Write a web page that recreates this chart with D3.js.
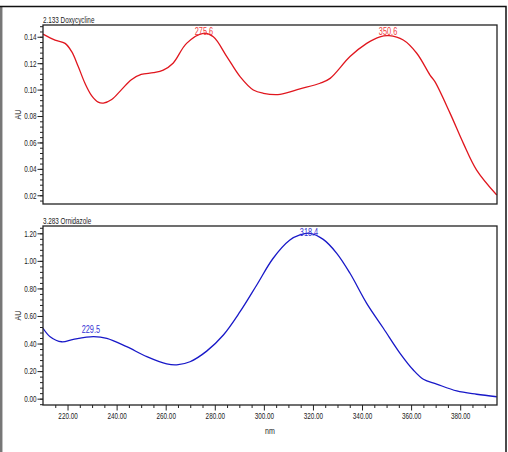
<!DOCTYPE html>
<html>
<head>
<meta charset="utf-8">
<script src="https://cdn.jsdelivr.net/npm/d3@7"></script>
<style>
  body { margin: 0; background: #fff; }
  text { font-family: "Liberation Sans", Arial, sans-serif; }
</style>
</head>
<body>
<div id="chart"></div>
<script>
// spectrum 1 : 2.133 Doxycycline
var doxyNm = [210, 214.9, 219, 221.7, 224.4, 227.1, 229.8, 232.5, 234.6, 238, 242, 246, 250, 255, 259, 263, 268.5, 275.3, 279.4, 284.9, 290.3, 295.7, 299.8, 306.6, 314.7, 322.9, 327, 335.1, 341.9, 347.3, 351, 356.8, 362.3, 367.7, 369.7, 375.9, 381.3, 386.7, 394.9];
var doxyAU = [0.142, 0.1375, 0.135, 0.1287, 0.1173, 0.1048, 0.0955, 0.0905, 0.0898, 0.0925, 0.100, 0.1075, 0.1115, 0.1128, 0.1148, 0.120, 0.135, 0.1426, 0.140, 0.125, 0.1098, 0.0997, 0.0972, 0.0964, 0.1005, 0.1048, 0.1085, 0.125, 0.135, 0.140, 0.1408, 0.1375, 0.1275, 0.111, 0.106, 0.082, 0.0593, 0.0391, 0.0202];
var doxyPeaks = [275.6, 350.6];

// spectrum 2 : 3.283 Ornidazole
var ornNm = [210, 212.9, 217.6, 222.4, 230.5, 236, 244.1, 252.3, 260.4, 264.5, 269.9, 276.7, 283.5, 290.3, 297.1, 303.8, 310.6, 314.7, 318.8, 324.2, 329.7, 335.1, 341.9, 348.7, 355.5, 360.9, 365, 370.4, 378.6, 386.7, 394.9];
var ornAU = [0.511, 0.45, 0.413, 0.431, 0.45, 0.438, 0.377, 0.305, 0.252, 0.245, 0.268, 0.345, 0.462, 0.631, 0.825, 1.019, 1.151, 1.188, 1.2, 1.156, 1.055, 0.91, 0.692, 0.511, 0.329, 0.208, 0.141, 0.106, 0.056, 0.032, 0.014];
var ornPeaks = [229.5, 318.4];

var xTicks = [220, 240, 260, 280, 300, 320, 340, 360, 380];
var doxyTicks = [0.02, 0.04, 0.06, 0.08, 0.10, 0.12, 0.14];
var ornTicks = [0.00, 0.20, 0.40, 0.60, 0.80, 1.00, 1.20];

var W = 508, H = 452;
var svg = d3.select("#chart").append("svg")
    .attr("width", W)
    .attr("height", H);

// squeeze text horizontally (chart uses a narrow face)
function narrow(sel, k) {
    sel.each(function () {
        var w = this.getComputedTextLength();
        d3.select(this).attr("textLength", w * (k || 0.73)).attr("lengthAdjust", "spacingAndGlyphs");
    });
}

// outer frame
svg.append("line").attr("x1", 1.2).attr("x2", 1.2).attr("y1", 6).attr("y2", H)
    .attr("stroke", "#777").attr("stroke-width", 2.5);
svg.append("path")
    .attr("d", "M 0 6.5 L 506 6.5 L 506 452")
    .attr("fill", "none")
    .attr("stroke", "#111")
    .attr("stroke-width", 1.5);

var x = d3.scaleLinear().domain([210, 395]).range([43, 497]);

function panel(opts) {
    var y = d3.scaleLinear().domain(opts.domain).range([opts.bottom, opts.top]);
    var g = svg.append("g");

    // minor y ticks
    var minor = d3.range(Math.ceil(opts.domain[0] / opts.minorStep), Math.floor(opts.domain[1] / opts.minorStep) + 1)
        .map(function (i) { return i * opts.minorStep; });
    g.append("g")
        .attr("transform", "translate(43,0)")
        .call(d3.axisLeft(y).tickValues(minor).tickSize(3).tickFormat(""))
        .call(function (s) { s.select(".domain").remove(); s.selectAll("line").attr("stroke", "#222"); });

    g.append("g")
        .attr("transform", "translate(43,0)")
        .call(d3.axisLeft(y).tickValues(opts.ticks).tickSize(5.5).tickPadding(1).tickFormat(d3.format(".2f")))
        .call(function (s) {
            s.select(".domain").remove();
            s.selectAll("line").attr("stroke", "#222");
            s.selectAll("text").attr("font-size", 8.8).attr("fill", "#222")
                .style("font-family", "'Liberation Sans', Arial, sans-serif")
                .call(narrow, 0.72);
        });

    var line = d3.line()
        .x(function (d) { return x(d[0]); })
        .y(function (d) { return y(d[1]); })
        .curve(d3.curveCatmullRom.alpha(0.5));

    var pts = opts.nm.map(function (n, i) { return [n, opts.au[i]]; });
    g.append("path")
        .datum(pts)
        .attr("d", line)
        .attr("fill", "none")
        .attr("stroke", opts.color)
        .attr("stroke-width", 1.3);

    // peak labels
    opts.peaks.forEach(function (p) {
        var i = d3.bisectLeft(opts.nm, p);
        var a = opts.nm[i - 1], b = opts.nm[i];
        var t = (p - a) / (b - a);
        var v = opts.au[i - 1] + t * (opts.au[i] - opts.au[i - 1]);
        g.append("text")
            .attr("x", x(p))
            .attr("y", Math.max(y(v) - 4, opts.top + 10))
            .attr("text-anchor", "middle")
            .attr("font-size", 10.5)
            .attr("fill", opts.labelColor)
            .text(p.toFixed(1))
            .call(narrow, 0.7);
    });

    // box
    g.append("rect")
        .attr("x", 43).attr("y", opts.top)
        .attr("width", 454).attr("height", opts.bottom - opts.top)
        .attr("fill", "none")
        .attr("stroke", "#222")
        .attr("stroke-width", 1.3);

    g.append("text")
        .attr("x", 43).attr("y", opts.top - 2)
        .attr("font-size", 8.8).attr("fill", "#222")
        .text(opts.title)
        .call(narrow, 0.72);

    g.append("text")
        .attr("transform", "translate(21," + ((opts.top + opts.bottom) / 2) + ") rotate(-90)")
        .attr("text-anchor", "middle")
        .attr("font-size", 8.8).attr("fill", "#222")
        .text("AU")
        .call(narrow, 0.8);
    return y;
}

panel({
    title: "2.133 Doxycycline", top: 25, bottom: 204,
    domain: [0.0134, 0.1489], ticks: doxyTicks, minorStep: 0.004,
    nm: doxyNm, au: doxyAU, peaks: doxyPeaks,
    color: "#e0161e", labelColor: "#f03a3a"
});

panel({
    title: "3.283 Ornidazole", top: 226, bottom: 405,
    domain: [-0.046, 1.253], ticks: ornTicks, minorStep: 0.04,
    nm: ornNm, au: ornAU, peaks: ornPeaks,
    color: "#1818c8", labelColor: "#3535d5"
});

// x axis
var minorX = d3.range(215, 395, 5).filter(function (v) { return v % 20 !== 0; });
svg.append("g")
    .attr("transform", "translate(0,405)")
    .call(d3.axisBottom(x).tickValues(minorX).tickSize(3).tickFormat(""))
    .call(function (s) { s.select(".domain").remove(); s.selectAll("line").attr("stroke", "#222"); });
svg.append("g")
    .attr("transform", "translate(0,405)")
    .call(d3.axisBottom(x).tickValues(xTicks).tickSize(5.5).tickPadding(2).tickFormat(d3.format(".2f")))
    .call(function (s) {
        s.select(".domain").remove();
        s.selectAll("line").attr("stroke", "#222");
        s.selectAll("text").attr("font-size", 8.8).attr("fill", "#222")
            .style("font-family", "'Liberation Sans', Arial, sans-serif")
            .call(narrow, 0.72);
    });

svg.append("text")
    .attr("x", 270).attr("y", 434)
    .attr("text-anchor", "middle")
    .attr("font-size", 8.8).attr("fill", "#222")
    .text("nm")
    .call(narrow, 0.8);
</script>
</body>
</html>
